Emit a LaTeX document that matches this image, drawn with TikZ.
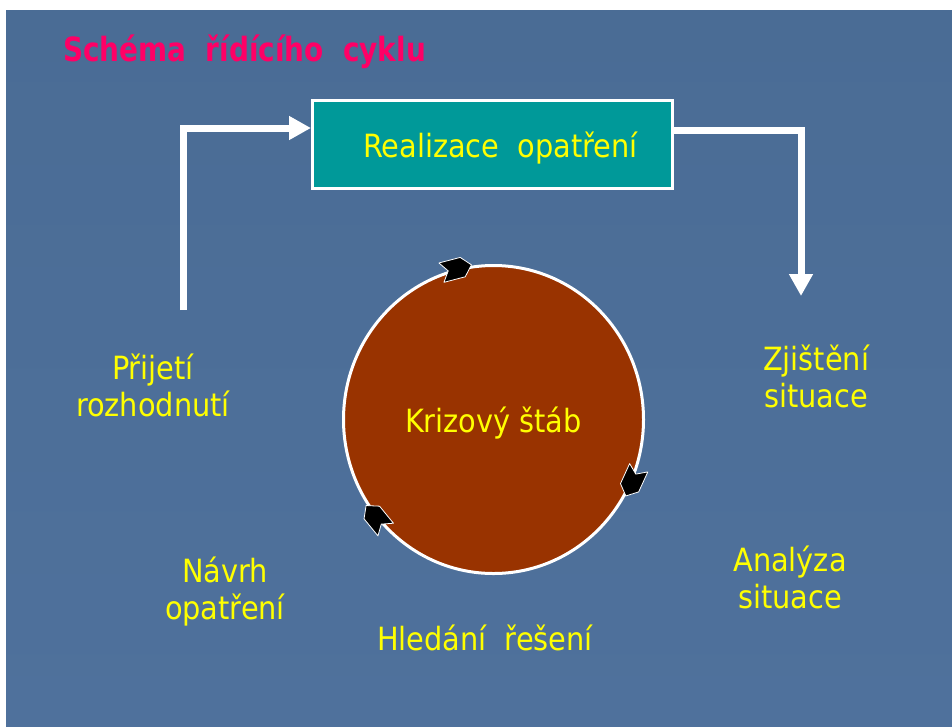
\documentclass[tikz,border=0pt]{standalone}
\usepackage{fontspec}
\setmainfont{DejaVu Sans Condensed}
\usepackage{xcolor}
\usepackage{tikz}
\usetikzlibrary{arrows.meta,shapes.geometric}
\definecolor{slatetop}{HTML}{4A6C95}
\definecolor{slatemid}{HTML}{5B7EAA}
\definecolor{slatebot}{HTML}{4F719C}
\definecolor{tealc}{HTML}{009999}
\definecolor{rustc}{HTML}{993300}
\definecolor{yelc}{HTML}{FFFF00}
\definecolor{titlec}{HTML}{FF0066}
\newcommand{\labfont}{\fontsize{24}{27.75}\selectfont}
\tikzset{
  flow/.style={-{Triangle[length=16.5pt,width=17pt]},line width=5.25pt,white},
  box/.style={draw=white,line width=2.25pt,fill=tealc,text=yelc,font=\labfont,inner sep=0pt,minimum width=270pt,minimum height=66pt,text depth=0pt},
  hub/.style={ellipse,draw=white,line width=2.25pt,fill=rustc,text=yelc,font=\labfont,inner sep=0pt,minimum width=225pt,minimum height=231pt,text depth=0pt},
  lab/.style={text=yelc,font=\labfont,align=center,inner sep=0pt},
  chev/.style={fill=black,draw=white,line width=0.6pt,line join=round}
}
\begin{document}
\begin{tikzpicture}[x=0.75pt,y=-0.75pt]
\useasboundingbox (0,0) rectangle (952,726);
\fill[white] (0,0) rectangle (952,726);
\shade[top color=slatetop,middle color=slatemid,bottom color=slatebot] (6,10) rectangle (952,726);
\node[anchor=base west,text=titlec,font=\fontsize{25}{30}\selectfont\bfseries\addfontfeatures{FakeStretch=0.93},inner sep=0pt] (title) at (63,61.5) {Schéma\ \ řídícího\ \ cyklu};
\node[box] (real) at (492.5,144.5) {\hspace{12pt}Realizace\ \ opatření};
\node[hub] (stab) at (493.5,419.5) {Krizový štáb};
\coordinate (lstart) at (183,310);
\coordinate (llvl) at (0,128);
\coordinate (rlvl) at (0,130);
\coordinate (rend) at (801,296);
\draw[flow] (lstart) |- (real.west |- llvl);
\draw[flow] (real.east |- rlvl) -| (rend);
\foreach \a in {104.6,-24.6,-140.8}
  \filldraw[chev,shift={(stab.\a)},rotate=\a-90] (16,0) -- (7,-10) -- (-15,-10) -- (-8,0) -- (-15,10) -- (7,10) -- cycle;
\node[lab] (prijeti) at (153,385) {Přijetí\\rozhodnutí};
\node[lab] (navrh) at (225,592) {Návrh\\opatření};
\node[lab] (zjisteni) at (816,376) {Zjištění\\situace};
\node[lab] (analyza) at (790,577) {Analýza\\situace};
\node[lab,anchor=base] (hledani) at (485,650) {Hledání\ \ řešení};
\end{tikzpicture}
\end{document}
